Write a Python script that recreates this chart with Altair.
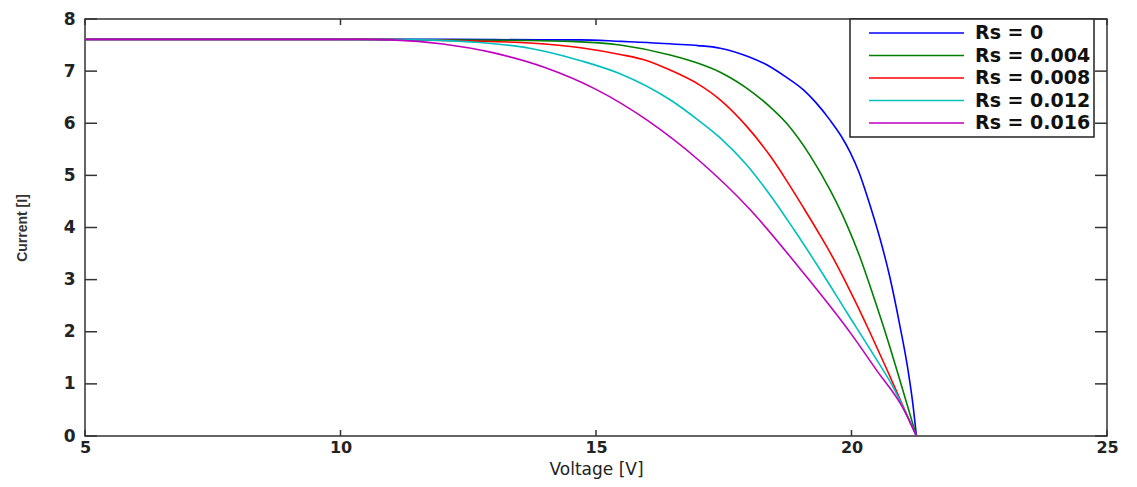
import altair as alt
import pandas as pd

# ---- data ----
series_names = ["Rs = 0", "Rs = 0.004", "Rs = 0.008", "Rs = 0.012", "Rs = 0.016"]
series_colors = ["#0000ff", "#008000", "#ff0000", "#00bfbf", "#bf00bf"]

v_rs0 = [5, 10, 12, 14, 14.7, 15.5, 16.0, 16.5, 17.0, 17.43, 18.0, 18.4, 18.7, 19.06,
         19.3, 19.58, 19.8, 19.97, 20.15, 20.3, 20.45, 20.56, 20.75, 20.95, 21.1, 21.2, 21.27]
i_rs0 = [7.61, 7.61, 7.61, 7.6, 7.6, 7.57, 7.55, 7.52, 7.49, 7.44, 7.27, 7.09, 6.9, 6.64,
         6.4, 6.06, 5.75, 5.45, 5.05, 4.62, 4.15, 3.78, 3.05, 2.1, 1.3, 0.62, 0.0]

v_rs004 = [5, 10, 12, 13.5, 14.5, 15.47, 16.45, 17.0, 17.43, 18.08, 18.4, 18.73, 19.19,
           19.58, 19.91, 20.17, 20.43, 20.69, 20.95, 21.27]
i_rs004 = [7.61, 7.61, 7.6, 7.59, 7.57, 7.5, 7.31, 7.15, 6.98, 6.58, 6.32, 6.0, 5.38,
           4.72, 4.05, 3.42, 2.68, 1.9, 1.06, 0.0]

v_rs008 = [5, 10, 11.4, 12.5, 13.7, 14.7, 15.47, 16.0, 16.45, 17.0, 17.43, 17.95, 18.41,
           18.73, 19.06, 19.38, 19.71, 20.04, 20.36, 20.69, 21.01, 21.27]
i_rs008 = [7.61, 7.61, 7.6, 7.58, 7.54, 7.45, 7.32, 7.2, 7.02, 6.75, 6.45, 5.94, 5.37,
           4.9, 4.38, 3.86, 3.29, 2.65, 1.99, 1.28, 0.57, 0.0]

v_rs012 = [5, 10, 11.5, 12.73, 13.7, 14.7, 15.47, 16.45, 17.0, 17.43, 17.95, 18.41,
           18.86, 19.38, 19.91, 20.43, 20.82, 21.27]
i_rs012 = [7.61, 7.61, 7.6, 7.55, 7.44, 7.2, 6.95, 6.45, 6.06, 5.72, 5.2, 4.62,
           3.98, 3.2, 2.37, 1.56, 0.93, 0.0]

v_rs016 = [5, 10.5, 11, 12, 13, 14, 15, 16, 17, 18, 19, 20, 20.5, 21, 21.27]
i_rs016 = [7.61, 7.61, 7.6, 7.52, 7.35, 7.07, 6.65, 6.06, 5.3, 4.36, 3.2, 1.95, 1.25,
           0.55, 0.0]

x_ticks = [5, 10, 15, 20, 25]
y_ticks = [0, 1, 2, 3, 4, 5, 6, 7, 8]

# ---- build the long table ----
all_v = [v_rs0, v_rs004, v_rs008, v_rs012, v_rs016]
all_i = [i_rs0, i_rs004, i_rs008, i_rs012, i_rs016]
rows = []
for name, vs, cs in zip(series_names, all_v, all_i):
    for j, (v, c) in enumerate(zip(vs, cs)):
        rows.append({"series": name, "V": v, "I": c, "j": j})
df = pd.DataFrame(rows)

W, H = 1022, 417
xscale = alt.Scale(domain=[5, 25], nice=False, zero=False)
yscale = alt.Scale(domain=[0, 8], nice=False, zero=True)

lines = alt.Chart(df).mark_line(strokeWidth=1.6, clip=True, interpolate="monotone").encode(
    x=alt.X("V:Q", scale=xscale,
            axis=alt.Axis(values=x_ticks, title="Voltage [V]", domain=False, ticks=False,
                          grid=False, labelFlush=False, labelPadding=3,
                          labelFont="DejaVu Sans", labelFontSize=16, labelFontWeight="bold",
                          labelColor="#222",
                          titleFont="DejaVu Sans", titleFontSize=17, titleFontWeight="normal",
                          titleColor="#222", titleX=W / 2, titleY=33,
                          titleAlign="center", titleBaseline="middle")),
    y=alt.Y("I:Q", scale=yscale,
            axis=alt.Axis(values=y_ticks, title="Current [I]", domain=False, ticks=False,
                          grid=False, labelFlush=False, labelPadding=10,
                          labelFont="DejaVu Sans", labelFontSize=17, labelFontWeight="bold",
                          labelColor="#222",
                          titleFont="Liberation Sans", titleFontSize=14, titleFontWeight="bold",
                          titleColor="#333", titleX=-63, titleY=H / 2, titleAngle=270,
                          titleAlign="center", titleBaseline="middle")),
    color=alt.Color("series:N",
                    scale=alt.Scale(domain=series_names, range=series_colors),
                    legend=alt.Legend(title=None, orient="none", legendX=765, legendY=0,
                                      symbolType="stroke", symbolSize=9025,
                                      symbolStrokeWidth=1.6, labelFont="DejaVu Sans",
                                      labelFontSize=19, labelFontWeight="bold",
                                      labelColor="#111", labelLimit=400,
                                      padding=3, strokeColor="#222",
                                      fillColor="white", clipHeight=22, rowPadding=0.5,
                                      symbolOffset=15, labelOffset=10)),
    order=alt.Order("j:Q"),
)

xt = pd.DataFrame({"t": x_ticks})
yt = pd.DataFrame({"t": y_ticks})
tick_col = "#333"

x_bottom = alt.Chart(xt).mark_rule(color=tick_col, strokeWidth=1.5).encode(
    x=alt.X("t:Q", scale=xscale), y=alt.value(H), y2=alt.value(H - 6))
x_top = alt.Chart(xt).mark_rule(color=tick_col, strokeWidth=1.5).encode(
    x=alt.X("t:Q", scale=xscale), y=alt.value(0), y2=alt.value(6))
y_left = alt.Chart(yt).mark_rule(color=tick_col, strokeWidth=1.5).encode(
    y=alt.Y("t:Q", scale=yscale), x=alt.value(0), x2=alt.value(12))
y_right = alt.Chart(yt).mark_rule(color=tick_col, strokeWidth=1.5).encode(
    y=alt.Y("t:Q", scale=yscale), x=alt.value(W), x2=alt.value(W - 12))

chart = alt.layer(lines, x_bottom, x_top, y_left, y_right).properties(
    width=W, height=H,
    autosize=alt.AutoSizeParams(type="none"),
    padding={"left": 77, "top": 11, "right": 14, "bottom": 43},
    background="white",
).configure_view(stroke="#333", strokeWidth=1.5).configure_legend(strokeWidth=1.5)

chart.save("out.html", embed_options={"renderer": "svg", "actions": False})
